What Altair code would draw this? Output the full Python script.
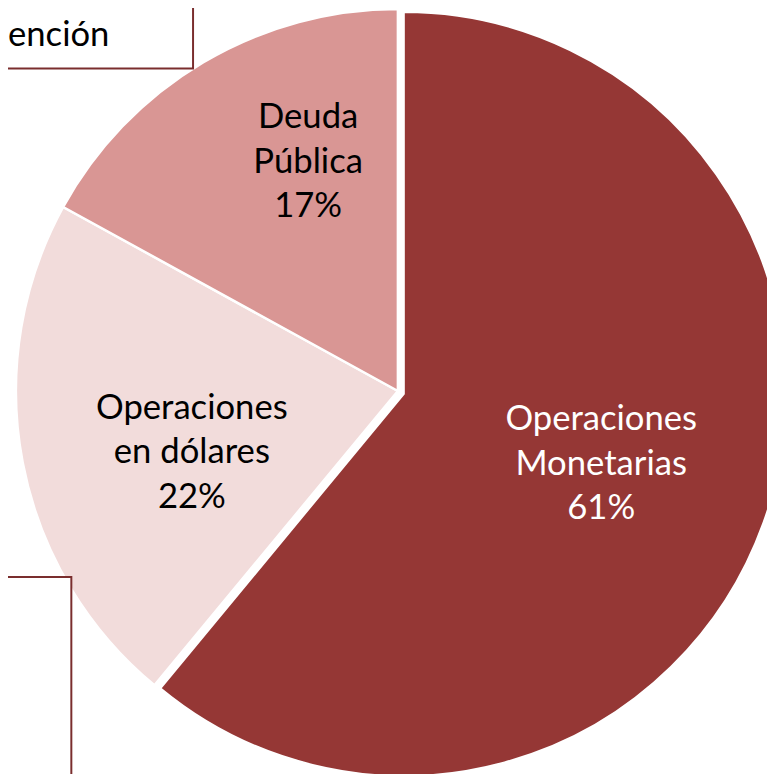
import altair as alt
import pandas as pd

categories = ["Operaciones Monetarias", "Operaciones en dólares", "Deuda Pública"]
label_lines = [["Operaciones", "Monetarias"], ["Operaciones", "en dólares"], ["Deuda", "Pública"]]
shares = [61, 22, 17]
colors = ["#953735", "#F2DCDB", "#D99694"]
label_colors = ["white", "black", "black"]
box_text = "ención"

df = pd.DataFrame({
    "cat": categories,
    "share": shares,
    "idx": list(range(len(categories))),
    "label": ["\n".join(l + [f"{s}%"]) for l, s in zip(label_lines, shares)],
})

CX, CY, R = 394, 383, 386
LH = 45

base = alt.Chart(df).encode(
    theta=alt.Theta("share:Q", stack=True),
    order=alt.Order("idx:Q"),
    x=alt.value(CX),
    y=alt.value(CY),
)
color = alt.Color("cat:N", scale=alt.Scale(domain=categories, range=colors), legend=None)
main_pred = "datum.cat == 'Operaciones Monetarias'"

pie_rest = base.mark_arc(radius=R, stroke="white", strokeWidth=2.5).encode(
    color=color,
    opacity=alt.condition(main_pred, alt.value(0), alt.value(1)),
)
pie_main = base.mark_arc(radius=R, stroke="white", strokeWidth=2, xOffset=6, yOffset=3).encode(
    color=color,
    opacity=alt.condition(main_pred, alt.value(1), alt.value(0)),
)

label_specs = [  # radius, dx, dy per category (dy centres the 3-line block)
    (212, 6, 2 - LH),
    (214, 2, 22 - LH),
    (247, 35, -19 - LH),
]
text_layers = []
for cat, col, (r, dx, dy) in zip(categories, label_colors, label_specs):
    text_layers.append(
        base.mark_text(
            radius=r, dx=dx, dy=dy, font="Lato", fontSize=35, lineHeight=LH,
            lineBreak="\n", align="center", baseline="middle", color=col,
        ).encode(text=alt.condition(f"datum.cat == '{cat}'", alt.Text("label:N"), alt.value("")))
    )

one = pd.DataFrame({"a": [0]})
box1 = alt.Chart(one).mark_rect(fill="white", stroke="#7A2E2E", strokeWidth=2).encode(
    x=alt.value(-20), x2=alt.value(187), y=alt.value(-20), y2=alt.value(57)
)
box1_text = alt.Chart(one).mark_text(
    font="Lato", fontSize=35, align="left", baseline="middle", color="black"
).encode(x=alt.value(0), y=alt.value(23), text=alt.value(box_text))
box2 = alt.Chart(one).mark_rect(fill="white", stroke="#7A2E2E", strokeWidth=2).encode(
    x=alt.value(-20), x2=alt.value(64), y=alt.value(571), y2=alt.value(800)
)

chart = alt.layer(pie_rest, pie_main, *text_layers, box1, box1_text, box2).properties(
    width=767, height=766, autosize=alt.AutoSizeParams(type="none"), padding=0
).configure_view(strokeWidth=0)

chart.save("out.html", embed_options={"renderer": "svg", "actions": False})
